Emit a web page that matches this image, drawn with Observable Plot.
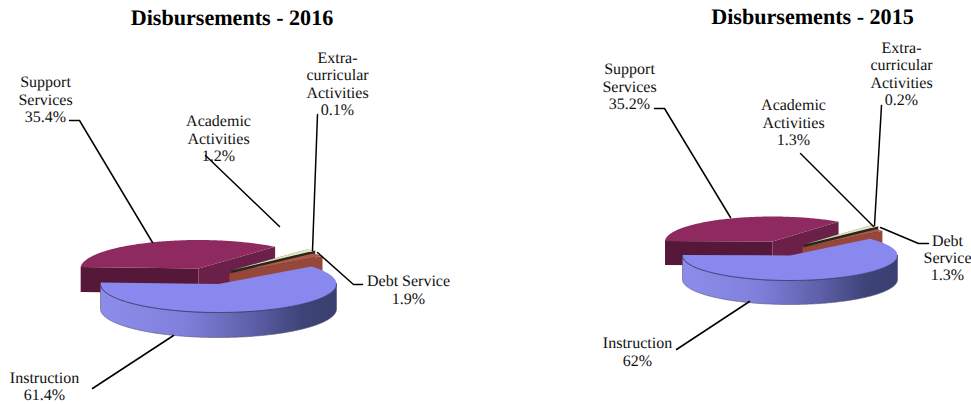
<!DOCTYPE html>
<html>
<head>
<meta charset="utf-8">
<title>Disbursements</title>
<script src="https://cdn.jsdelivr.net/npm/d3@7"></script>
<script src="https://cdn.jsdelivr.net/npm/@observablehq/plot@0.6"></script>
<style>
  html, body { margin: 0; padding: 0; background: #fff; overflow: hidden; }
  svg { display: block; }
  svg text { text-rendering: geometricPrecision; }
</style>
</head>
<body>
<div id="chart"></div>
<script>
// Shares of total disbursements, in percent, clockwise from the Instruction slice.
const sliceNames = ["Instruction", "Support Services", "Extra-curricular Activities", "Academic Activities", "Debt Service"];
const shares2016 = [61.4, 35.4, 0.1, 1.2, 1.9];
const shares2015 = [62, 35.2, 0.2, 1.3, 1.3];

// How each slice name wraps over lines, one list per year.
const wrapped2016 = ["Instruction", "Support\nServices", "Extra-\ncurricular\nActivities", "Academic\nActivities", "Debt Service"];
const wrapped2015 = ["Instruction", "Support\nServices", "Extra-\ncurricular\nActivities", "Academic\nActivities", "Debt\nService"];

// Slice colours: top face, outer rim, the two cut faces.
const sliceStyles = [
  {top: "#8888ee", rim: "url(#rimShade)", cutStart: "#6a6ac0", cutEnd: "#6a6ac0"},
  {top: "#8e2a5f", rim: "#5a1a3c", cutStart: "#561838", cutEnd: "#6a2048"},
  {top: "#f6f6dc", rim: "#d8d8b8", cutStart: "#d8d8b8", cutEnd: "#2c2c22"},
  {top: "#e4e4c0", rim: "#c8c8a0", cutStart: "#c8c8a0", cutEnd: "#26261e"},
  {top: "#ac5848", rim: "#8f4336", cutStart: "#8f4336", cutEnd: "#96473a"}
];
const paintOrder = [1, 2, 3, 4, 0];

// Pie placement on the page, in pixels; each slice is pulled out from its own centre.
const pie2016 = {
  title: "Disbursements - 2016", titleX: 231.5, titleY: 17,
  startDeg: 52, rx: 118, ry: 28.5, depth: 25,
  centers: [[218, 283.5], [198, 268], [231, 270], [231, 270], [229, 273]],
  labels: [[44, 385.5], [45, 98.5], [337, 83], [218, 137.5], [408, 289]],
  leaders: [
    [[92, 388], [173, 335]],
    [[69, 120], [79, 120], [152, 242]],
    [[317, 114], [312, 250]],
    [[205, 155], [279, 226]],
    [[317, 252], [353, 284], [362, 284]]
  ]
};
const pie2015 = {
  title: "Disbursements - 2015", titleX: 812, titleY: 16,
  startDeg: 48, rx: 107.5, ry: 25, depth: 24,
  centers: [[789.5, 255], [772, 241], [804, 244], [804, 244], [802, 247]],
  labels: [[637, 351], [629, 85.5], [901, 73], [793, 121.5], [947, 257]],
  leaders: [
    [[676, 349], [749, 301]],
    [[654, 108], [664, 108], [730, 217]],
    [[881, 105], [874, 225]],
    [[800, 153], [873, 226]],
    [[880, 227], [918, 243], [928, 243]]
  ]
};

const rad = Math.PI / 180;
const TAU = 2 * Math.PI;

// Rim position at a clockwise angle measured from twelve o'clock.
function rimPoint(pie, center, angle, drop = 0) {
  return {x: center[0] + pie.rx * Math.sin(angle), y: center[1] - pie.ry * Math.cos(angle) + drop};
}
function arcPoints(pie, center, a0, a1, drop = 0) {
  const n = Math.max(2, Math.ceil((a1 - a0) / rad));
  return d3.range(n + 1).map((i) => rimPoint(pie, center, a0 + (a1 - a0) * i / n, drop));
}

// Parts of an angular range that lie on the viewer's side of the pie.
function frontRanges(a0, a1) {
  const out = [];
  for (const k of [0, 1]) {
    const lo = Math.max(a0, Math.PI / 2 + k * TAU);
    const hi = Math.min(a1, 3 * Math.PI / 2 + k * TAU);
    if (hi > lo) out.push([lo, hi]);
  }
  return out;
}

function faceMark(points, fill, stroke = "none", strokeWidth = 0) {
  return Plot.line(points, {x: "x", y: "y", fill, stroke, strokeWidth, curve: "linear"});
}

// Builds the faces of one pie from its shares, back to front.
function pieMarks(shares, pie) {
  const arcs = d3.pie().sort(null)
    .startAngle(pie.startDeg * rad)
    .endAngle(pie.startDeg * rad + TAU)(shares);
  const marks = [];
  for (const i of paintOrder) {
    const {startAngle: a0, endAngle: a1} = arcs[i];
    const c = sliceStyles[i];
    const center = pie.centers[i];
    const apex = {x: center[0], y: center[1]};
    const apexLow = {x: center[0], y: center[1] + pie.depth};

    // Cut faces show only when they turn towards the viewer.
    const cut = (a, fill) => {
      const p = rimPoint(pie, center, a);
      const q = rimPoint(pie, center, a, pie.depth);
      marks.push(faceMark([apex, p, q, apexLow, apex], fill));
    };
    if (Math.cos(a0 - Math.PI / 2) < 0) cut(a0, c.cutStart);
    if (Math.cos(a1 + Math.PI / 2) < 0) cut(a1, c.cutEnd);

    for (const [lo, hi] of frontRanges(a0, a1)) {
      const upper = arcPoints(pie, center, lo, hi);
      const lower = arcPoints(pie, center, lo, hi, pie.depth).reverse();
      marks.push(faceMark([...upper, ...lower, upper[0]], c.rim, "#55557a", 0.6));
    }

    marks.push(faceMark([apex, ...arcPoints(pie, center, a0, a1), apex], c.top));

    // Dark seam along the near edge of the top face.
    for (const [lo, hi] of frontRanges(a0, a1)) {
      marks.push(Plot.line(arcPoints(pie, center, lo, hi), {x: "x", y: "y", stroke: "#2e2e66", strokeWidth: 0.8}));
    }
  }
  return marks;
}

function labelMarks(shares, wrapped, pie) {
  const rows = shares.map((share, i) => ({
    text: `${wrapped[i]}\n${share}%`,
    x: pie.labels[i][0],
    y: pie.labels[i][1]
  }));
  const leaders = pie.leaders.flatMap((line, i) => line.map(([x, y]) => ({x, y, slice: sliceNames[i]})));
  return [
    Plot.line(leaders, {x: "x", y: "y", z: "slice", stroke: "#000", strokeWidth: 1.5}),
    Plot.text(rows, {
      x: "x", y: "y", text: "text",
      fontFamily: "Liberation Serif", fontSize: 16, lineHeight: 1.08,
      lineAnchor: "middle", textAnchor: "middle", fill: "#111"
    }),
    Plot.text([pie.title], {
      x: () => pie.titleX, y: () => pie.titleY, text: (d) => d,
      fontFamily: "Liberation Serif", fontSize: 22.1, fontWeight: "bold",
      lineAnchor: "middle", textAnchor: "middle", fill: "#000"
    })
  ];
}

// Horizontal shading on the front wall of the Instruction slice.
function rimGradient() {
  const defs = d3.create("svg:defs");
  const g = defs.append("linearGradient").attr("id", "rimShade");
  [[0, "#8c8cea"], [0.35, "#8080dc"], [0.65, "#5c5ea6"], [0.85, "#3f4478"], [1, "#3a3f70"]]
    .forEach(([o, color]) => g.append("stop").attr("offset", o).attr("stop-color", color));
  return defs.node();
}

const chart = Plot.plot({
  width: 971,
  height: 404,
  margin: 0,
  x: {domain: [0, 971], range: [0, 971], axis: null},
  y: {domain: [0, 404], range: [0, 404], axis: null},
  style: {background: "#fff"},
  marks: [
    rimGradient,
    ...pieMarks(shares2016, pie2016),
    ...pieMarks(shares2015, pie2015),
    ...labelMarks(shares2016, wrapped2016, pie2016),
    ...labelMarks(shares2015, wrapped2015, pie2015)
  ]
});
document.getElementById("chart").append(chart);
</script>
</body>
</html>
